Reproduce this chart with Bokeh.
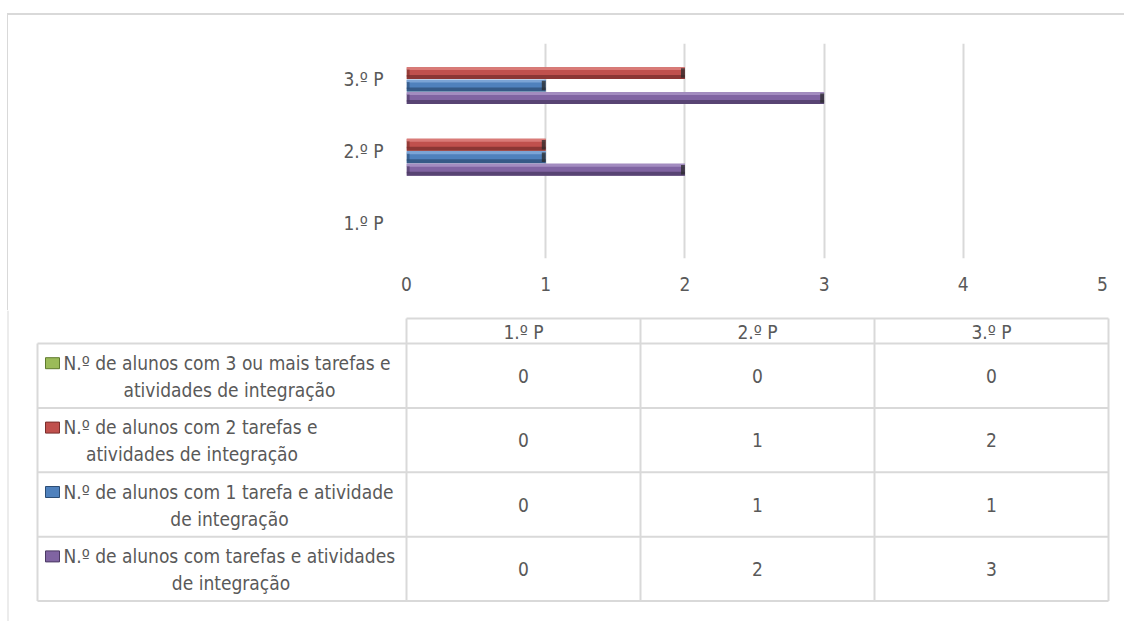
from bokeh.plotting import figure
from bokeh.models import Range1d, FactorRange, FixedTicker, ColumnDataSource
from bokeh.transform import dodge
from bokeh.embed import file_html
from bokeh.resources import INLINE
from bokeh.core.properties import value

# ---------------- data ----------------
categories = ["1.º P", "2.º P", "3.º P"]
tick_values = [0, 1, 2, 3, 4, 5]

alunos_com_tarefas = [0, 2, 3]
alunos_1_tarefa = [0, 1, 1]
alunos_2_tarefas = [0, 1, 2]
alunos_3_ou_mais = [0, 0, 0]

label_3_ou_mais = ["N.º de alunos com 3 ou mais tarefas e", "atividades de integração"]
label_2_tarefas = ["N.º de alunos com 2 tarefas e", "atividades de integração"]
label_1_tarefa = ["N.º de alunos com 1 tarefa e atividade", "de integração"]
label_com_tarefas = ["N.º de alunos com tarefas e atividades", "de integração"]

# ---------------- styles ----------------
FONT = "DejaVu Sans Condensed, Liberation Sans, sans-serif"
TXT = "#595959"
GRID = "#d9d9d9"
FS = "19px"

# series: (values, label lines, main, light, dark, dodge offset); table order top -> bottom
series = [
    (alunos_3_ou_mais, label_3_ou_mais, "#9bbb59", "#b9d183", "#5f7a2e", 0.262),
    (alunos_2_tarefas, label_2_tarefas, "#c0504d", "#d97a77", "#7a2e2c", 0.087),
    (alunos_1_tarefa, label_1_tarefa, "#4f81bd", "#7ba4d6", "#2c4d75", -0.087),
    (alunos_com_tarefas, label_com_tarefas, "#8064a2", "#a38cc0", "#4b3963", -0.262),
]
BAR_H = 0.165

# page-coordinate origin of the content
OX, OY = 0, 0
W = 1124
H1 = 310

# outer chart-area border (top and left edges) painted behind the transparent canvas
border_css = {
    "background-image": "linear-gradient(#d9d9d9, #d9d9d9), linear-gradient(#d9d9d9, #d9d9d9)",
    "background-size": "100% 2px, 1px 100%",
    "background-position": "7px 13px, 7px 13px",
    "background-repeat": "no-repeat",
}

# ---------------- bar chart ----------------
p1 = figure(width=W, height=H1, y_range=FactorRange(*categories), x_range=Range1d(0, 5),
            output_backend="svg", toolbar_location=None,
            min_border_left=406 - OX, min_border_right=OX + W - 1102,
            min_border_top=43 - OY, min_border_bottom=H1 - 258,
            styles=border_css)
p1.outline_line_color = None
p1.border_fill_alpha = 0
p1.background_fill_color = "white"
p1.ygrid.grid_line_color = None
p1.xgrid.grid_line_color = GRID
p1.xgrid.grid_line_width = 2
p1.xaxis.ticker = FixedTicker(ticks=tick_values)
for ax in (p1.xaxis[0], p1.yaxis[0]):
    ax.axis_line_color = None
    ax.major_tick_line_color = None
    ax.minor_tick_line_color = None
    ax.major_label_text_font = FONT
    ax.major_label_text_font_size = FS
    ax.major_label_text_color = TXT
p1.xaxis.major_label_standoff = 12
p1.yaxis.major_label_standoff = 17

for vals, _, main, light, dark, off in series:
    nz = [(c, v) for c, v in zip(categories, vals) if v > 0]
    if not nz:
        continue
    src = ColumnDataSource(dict(cat=[c for c, _ in nz], val=[v for _, v in nz],
                                capl=[v - 0.028 for _, v in nz], zero=[0] * len(nz),
                                capr0=[0.022] * len(nz)))
    p1.hbar(y=dodge("cat", off, range=p1.y_range), left="zero", right="val", height=BAR_H,
            source=src, fill_color=main, line_color=None)
    p1.hbar(y=dodge("cat", off + BAR_H / 2 - BAR_H * 0.12, range=p1.y_range), left="zero", right="val",
            height=BAR_H * 0.24, source=src, fill_color=light, line_color=None)
    p1.hbar(y=dodge("cat", off - BAR_H / 2 + BAR_H * 0.17, range=p1.y_range), left="zero", right="val",
            height=BAR_H * 0.34, source=src, fill_color=dark, fill_alpha=0.75, line_color=None)
    p1.hbar(y=dodge("cat", off, range=p1.y_range), left="capl", right="val", height=BAR_H * 0.8,
            source=src, fill_color="#2a2a2a", fill_alpha=0.75, line_color=None)
    p1.hbar(y=dodge("cat", off, range=p1.y_range), left="zero", right="capr0", height=BAR_H * 0.6,
            source=src, fill_color=dark, fill_alpha=0.6, line_color=None)

# ---------------- data table ----------------
TOP = H1
H2 = 621 - TOP
p2 = figure(width=W, height=H2, x_range=Range1d(OX, OX + W), y_range=Range1d(TOP + H2, TOP),
            output_backend="svg", toolbar_location=None,
            x_axis_location=None, y_axis_location=None, min_border=0)
p2.outline_line_color = None
p2.grid.grid_line_color = None

col_x = [406, 640, 874, 1108]
head_top, head_bot = 318, 343
row_h = 64.4
n_rows = len(series)
row_y = [head_bot + i * row_h for i in range(n_rows + 1)]
label_left = 37

xs0, xs1, ys0, ys1 = [], [], [], []
xs0.append(col_x[0]); xs1.append(col_x[-1]); ys0.append(head_top); ys1.append(head_top)
for y in row_y:
    xs0.append(label_left); xs1.append(col_x[-1]); ys0.append(y); ys1.append(y)
for x in col_x:
    xs0.append(x); xs1.append(x); ys0.append(head_top); ys1.append(row_y[-1])
xs0.append(label_left); xs1.append(label_left); ys0.append(head_bot); ys1.append(row_y[-1])
p2.segment(x0=xs0, y0=ys0, x1=xs1, y1=ys1, line_color=GRID, line_width=2)
# outer border, left edge continued
p2.segment(x0=[7.5], y0=[TOP], x1=[7.5], y1=[TOP + H2], line_color=GRID, line_width=1)

col_cx = [(col_x[i] + col_x[i + 1]) / 2 for i in range(len(categories))]
p2.text(x=col_cx, y=[(head_top + head_bot) / 2 + 1] * len(categories), text=categories,
        text_font=value(FONT), text_font_size=FS, text_color=TXT,
        text_align="center", text_baseline="middle")

block_w = [332, 257, 332, 335]
key_x0, text_x0 = 45, 63
for i, (vals, lines, main, light, dark, off) in enumerate(series):
    cy = (row_y[i] + row_y[i + 1]) / 2
    p2.text(x=col_cx, y=[cy] * len(vals), text=[str(v) for v in vals],
            text_font=value(FONT), text_font_size=FS, text_color=TXT,
            text_align="center", text_baseline="middle")
    y1, y2 = cy - 13, cy + 14
    p2.text(x=[text_x0], y=[y1], text=[lines[0]], text_font=value(FONT), text_font_size=FS,
            text_color=TXT, text_align="left", text_baseline="middle")
    p2.text(x=[text_x0 + block_w[i] / 2], y=[y2], text=[lines[1]], text_font=value(FONT),
            text_font_size=FS, text_color=TXT, text_align="center", text_baseline="middle")
    p2.quad(left=[key_x0], right=[key_x0 + 14], top=[y1 - 5], bottom=[y1 + 6],
            fill_color=main, line_color=dark, line_width=1)

open("out.html", "w").write(file_html([p1, p2], INLINE))
